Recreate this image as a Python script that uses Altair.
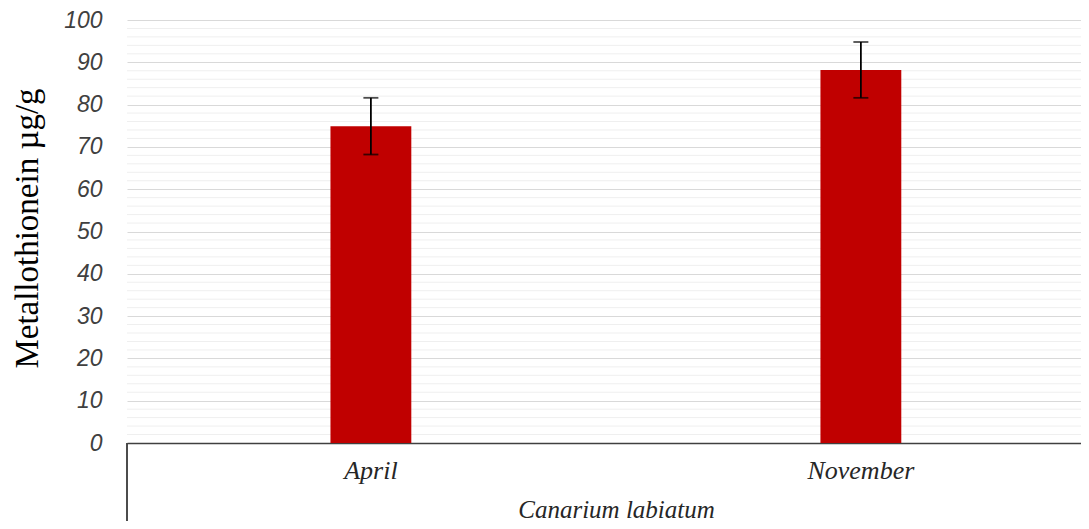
import altair as alt
import pandas as pd

# ---- data ----
categories = ["April", "November"]
means = [74.9, 88.2]
errors = [6.7, 6.6]
group_label = "Canarium labiatum"
y_title = "Metallothionein µg/g"
y_ticks = [0, 10, 20, 30, 40, 50, 60, 70, 80, 90, 100]
minor_grid = [v for v in range(0, 101, 2) if v % 10 != 0]

df = pd.DataFrame({"cat": categories, "mean": means, "err": errors})
df["low"] = df["mean"] - df["err"]
df["high"] = df["mean"] + df["err"]
minor_df = pd.DataFrame({"v": minor_grid})

y_scale = alt.Scale(domain=[0, 100], nice=False, zero=True)
x_scale = alt.Scale(paddingInner=0.835, paddingOuter=0.391, align=0.531)

x_axis = alt.Axis(
    title=group_label,
    labelFont="Liberation Serif", labelFontStyle="italic", labelFontSize=26,
    labelColor="#262626", labelAngle=0, labelPadding=14,
    ticks=False, grid=False,
    domain=True, domainColor="#404040", domainWidth=1.5,
    titleFont="Liberation Serif", titleFontStyle="italic", titleFontSize=25,
    titleFontWeight="normal", titleColor="#262626",
    titleX=489, titleY=74, titleBaseline="alphabetic", titleAlign="center",
)

y_axis = alt.Axis(
    title=y_title, values=y_ticks,
    labelFont="Liberation Sans", labelFontStyle="italic", labelFontSize=23,
    labelColor="#404040", labelPadding=25,
    ticks=False, domain=False,
    grid=True, gridColor="#d9d9d9", gridWidth=1,
    titleFont="Liberation Serif", titleFontSize=33, titleFontWeight="normal",
    titleColor="#000000", titleAngle=-90,
    titleX=-90, titleY=208, titleBaseline="alphabetic", titleAlign="center",
)

base = alt.Chart(df)

minor = alt.Chart(minor_df).mark_rule(color="#efefef", strokeWidth=1).encode(
    y=alt.Y("v:Q", scale=y_scale, axis=y_axis)
)

bars = base.mark_bar(color="#C00000").encode(
    x=alt.X("cat:N", scale=x_scale, axis=x_axis, sort=categories),
    y=alt.Y("mean:Q", scale=y_scale, axis=y_axis),
)

err_rule = base.mark_rule(color="#000000", strokeWidth=1.8).encode(
    x=alt.X("cat:N", scale=x_scale, axis=x_axis, sort=categories),
    y=alt.Y("low:Q", scale=y_scale, axis=y_axis),
    y2="high:Q",
)

cap_low = base.mark_tick(color="#000000", orient="horizontal", size=15, thickness=1.8).encode(
    x=alt.X("cat:N", scale=x_scale, axis=x_axis, sort=categories),
    y=alt.Y("low:Q", scale=y_scale, axis=y_axis),
)
cap_high = base.mark_tick(color="#000000", orient="horizontal", size=15, thickness=1.8).encode(
    x=alt.X("cat:N", scale=x_scale, axis=x_axis, sort=categories),
    y=alt.Y("high:Q", scale=y_scale, axis=y_axis),
)

left_edge = base.mark_rule(color="#404040", strokeWidth=1.5).encode(
    x=alt.value(0), y=alt.value(423), y2=alt.value(540)
)

chart = alt.layer(minor, bars, err_rule, cap_low, cap_high, left_edge).properties(
    width=954,
    height=423,
    autosize=alt.AutoSizeParams(type="none"),
    padding={"left": 119, "top": 12, "right": 0, "bottom": 78},
    background="white",
).configure_view(stroke=None)

chart.save("out.html", embed_options={"renderer": "svg", "actions": False})
